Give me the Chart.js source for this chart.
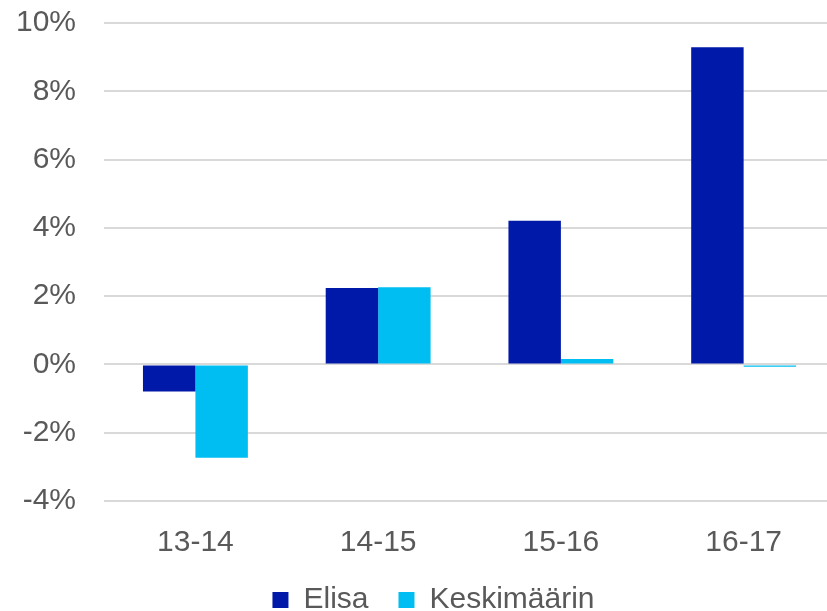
<!DOCTYPE html>
<html><head><meta charset="utf-8">
<script src="https://cdn.jsdelivr.net/npm/chart.js@4"></script>
<style>html,body{margin:0;padding:0;background:#fff;overflow:hidden}#wrap{width:835px;height:611px}</style>
</head><body><div id="wrap"><canvas id="c" width="835" height="611"></canvas></div>
<script>
const categories = ["13-14", "14-15", "15-16", "16-17"];
const elisa = [-0.79, 2.24, 4.21, 9.29];
const keskimaarin = [-2.73, 2.26, 0.16, -0.07];
const seriesNames = ["Elisa", "Keskimäärin"];
const yTicks = [-4, -2, 0, 2, 4, 6, 8, 10];

const legendShift = {
  id: 'legendShift',
  afterUpdate(chart) {
    const lg = chart.legend;
    if (lg) { lg.top -= 30; lg.bottom -= 30; lg.left += 22; lg.right += 22; }
  }
};

new Chart(document.getElementById('c'), {
  type: 'bar',
  data: {
    labels: categories,
    datasets: [
      {label: seriesNames[0], data: elisa, backgroundColor: '#0019A8'},
      {label: seriesNames[1], data: keskimaarin, backgroundColor: '#00BEF2'}
    ]
  },
  plugins: [legendShift],
  options: {
    responsive: false,
    animation: false,
    devicePixelRatio: 1,
    layout: {padding: {top: 23, right: 0, left: -12, bottom: -44}},
    datasets: {bar: {categoryPercentage: 0.574, barPercentage: 1.0}},
    plugins: {
      tooltip: {enabled: false},
      legend: {
        position: 'bottom',
        labels: {
          font: {family: 'Liberation Sans', size: 30},
          color: '#595959',
          boxWidth: 16, boxHeight: 16, padding: 30
        }
      }
    },
    scales: {
      x: {
        grid: {display: false, drawTicks: false},
        border: {display: false},
        ticks: {font: {family: 'Liberation Sans', size: 30}, color: '#595959', padding: 24}
      },
      y: {
        min: -4, max: 10,
        afterBuildTicks: (s) => { s.ticks = yTicks.map(v => ({value: v})); },
        afterFit: (s) => { s.paddingTop = 0; s.paddingBottom = 0; },
        grid: {color: '#d9d9d9', lineWidth: 2, drawTicks: false},
        border: {display: false},
        ticks: {
          font: {family: 'Liberation Sans', size: 30}, color: '#595959', padding: 28,
          callback: (v) => v + '%'
        }
      }
    }
  }
});
</script></body></html>
